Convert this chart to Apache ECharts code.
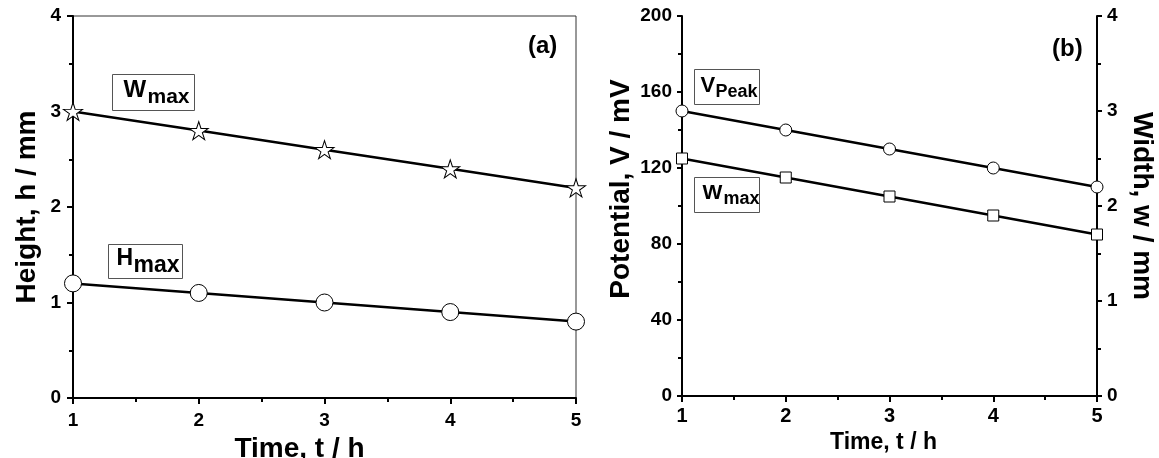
<!DOCTYPE html>
<html>
<head>
<meta charset="utf-8">
<script src="https://cdn.jsdelivr.net/npm/echarts@6/dist/echarts.min.js"></script>
<style>
  html, body { margin: 0; padding: 0; background: #fff; }
  #main { width: 1159px; height: 458px; }
</style>
</head>
<body>
<div id="main"></div>
<script>
// 数据
let times = [1, 2, 3, 4, 5];
let heightWmax = [3.0, 2.8, 2.6, 2.4, 2.2];
let heightHmax = [1.2, 1.1, 1.0, 0.9, 0.8];
let potentialPeak = [150, 140, 130, 120, 110];
let widthWmax = [2.5, 2.3, 2.1, 1.9, 1.7];

let fontA = '"Liberation Sans", Arial, sans-serif';
let starPath = 'path://M0 -100 L22 -31 L95 -31 L36 12 L59 81 L0 38 L-59 81 L-36 12 L-95 -31 L-22 -31 Z';

function pairs(ys) {
    return times.map(function (t, i) { return [t, ys[i]]; });
}

// 带框的标注文字 (主字 + 下标)
function boxLabel(x, y, w, h, main, mainSize, mainX, mainY, sub, subSize, subX, subY) {
    return {
        type: 'group',
        left: x, top: y,
        children: [
            { type: 'rect', shape: { x: 0, y: 0, width: w, height: h },
              style: { fill: '#fff', stroke: '#555', lineWidth: 1 } },
            { type: 'text', x: mainX, y: mainY,
              style: { text: main, font: 'bold ' + mainSize + 'px ' + fontA, fill: '#000' } },
            { type: 'text', x: subX, y: subY,
              style: { text: sub, font: 'bold ' + subSize + 'px ' + fontA, fill: '#000' } }
        ]
    };
}

let axisLineStyle = { lineStyle: { color: '#000', width: 2 } };
let tickStyle = { color: '#000', width: 2 };

let myChart = echarts.init(document.getElementById('main'));

let option = {
    backgroundColor: '#fff',
    animation: false,
    grid: [
        { left: 73, right: 583, top: 16, bottom: 60, outerBoundsMode: 'none', containLabel: false,
          show: true, borderColor: '#333', borderWidth: 1 },
        { left: 682, right: 62, top: 16, bottom: 62, outerBoundsMode: 'none', containLabel: false }
    ],
    xAxis: [
        {
            gridIndex: 0, type: 'value', min: 1, max: 5, interval: 1,
            name: 'Time, t / h', nameLocation: 'middle', nameGap: 32,
            nameTextStyle: { fontSize: 28, fontWeight: 'bold', fontFamily: fontA, color: '#000', padding: [0, 50, 0, 0] },
            axisLine: axisLineStyle,
            axisTick: { length: 6, lineStyle: tickStyle },
            minorTick: { show: true, splitNumber: 2, length: 4, lineStyle: tickStyle },
            splitLine: { show: false },
            axisLabel: { fontSize: 19, fontWeight: 'bold', fontFamily: fontA, color: '#000', margin: 13 }
        },
        {
            gridIndex: 1, type: 'value', min: 1, max: 5, interval: 1,
            name: 'Time, t / h', nameLocation: 'middle', nameGap: 30,
            nameTextStyle: { fontSize: 23, fontWeight: 'bold', fontFamily: fontA, color: '#000', padding: [0, 12, 0, 0] },
            axisLine: axisLineStyle,
            axisTick: { length: 6, lineStyle: tickStyle },
            minorTick: { show: true, splitNumber: 2, length: 4, lineStyle: tickStyle },
            splitLine: { show: false },
            axisLabel: { fontSize: 20, fontWeight: 'bold', fontFamily: fontA, color: '#000', margin: 10 }
        },
        {
            gridIndex: 1, type: 'value', position: 'top', min: 1, max: 5, interval: 1,
            axisLine: axisLineStyle,
            axisTick: { inside: true, length: 6, lineStyle: tickStyle },
            minorTick: { show: true, splitNumber: 2, length: 3, lineStyle: tickStyle },
            splitLine: { show: false },
            axisLabel: { show: false }
        }
    ],
    yAxis: [
        {
            gridIndex: 0, type: 'value', min: 0, max: 4, interval: 1,
            name: 'Height, h / mm', nameLocation: 'middle', nameGap: 32,
            nameTextStyle: { fontSize: 28, fontWeight: 'bold', fontFamily: fontA, color: '#000' },
            axisLine: axisLineStyle,
            axisTick: { length: 6, lineStyle: tickStyle },
            minorTick: { show: true, splitNumber: 2, length: 4, lineStyle: tickStyle },
            splitLine: { show: false },
            axisLabel: { fontSize: 19, fontWeight: 'bold', fontFamily: fontA, color: '#000', margin: 12 }
        },
        {
            gridIndex: 1, type: 'value', min: 0, max: 200, interval: 40,
            name: 'Potential, V / mV', nameLocation: 'middle', nameGap: 47,
            nameTextStyle: { fontSize: 28, fontWeight: 'bold', fontFamily: fontA, color: '#000', padding: [0, 0, 0, 34] },
            axisLine: axisLineStyle,
            axisTick: { length: 5, lineStyle: tickStyle },
            minorTick: { show: true, splitNumber: 2, length: 4, lineStyle: tickStyle },
            splitLine: { show: false },
            axisLabel: { fontSize: 19, fontWeight: 'bold', fontFamily: fontA, color: '#000', margin: 10 }
        },
        {
            gridIndex: 1, type: 'value', position: 'right', min: 0, max: 4, interval: 1,
            name: 'Width, w / mm', nameLocation: 'middle', nameGap: 31, nameRotate: -90,
            nameTextStyle: { fontSize: 28, fontWeight: 'bold', fontFamily: fontA, color: '#000' },
            axisLine: axisLineStyle,
            axisTick: { length: 5, lineStyle: tickStyle },
            minorTick: { show: true, splitNumber: 2, length: 4, lineStyle: tickStyle },
            splitLine: { show: false },
            axisLabel: { fontSize: 19, fontWeight: 'bold', fontFamily: fontA, color: '#000', margin: 10 }
        }
    ],
    series: [
        {
            name: 'Wmax', type: 'line', xAxisIndex: 0, yAxisIndex: 0,
            data: pairs(heightWmax),
            symbol: starPath, symbolSize: [19, 18],
            lineStyle: { color: '#000', width: 2.5 },
            itemStyle: { color: '#fff', borderColor: '#000', borderWidth: 1 }
        },
        {
            name: 'Hmax', type: 'line', xAxisIndex: 0, yAxisIndex: 0,
            data: pairs(heightHmax),
            symbol: 'circle', symbolSize: 17,
            lineStyle: { color: '#000', width: 2.5 },
            itemStyle: { color: '#fff', borderColor: '#000', borderWidth: 1 }
        },
        {
            name: 'VPeak', type: 'line', xAxisIndex: 1, yAxisIndex: 1,
            data: pairs(potentialPeak),
            symbol: 'circle', symbolSize: 12,
            lineStyle: { color: '#000', width: 2.5 },
            itemStyle: { color: '#fff', borderColor: '#000', borderWidth: 1 }
        },
        {
            name: 'Wmax b', type: 'line', xAxisIndex: 1, yAxisIndex: 2,
            data: pairs(widthWmax),
            symbol: 'rect', symbolSize: 11,
            lineStyle: { color: '#000', width: 2.5 },
            itemStyle: { color: '#fff', borderColor: '#000', borderWidth: 1 }
        }
    ],
    graphic: [
        boxLabel(112, 74, 82, 36, 'W', 24, 11, 4, 'max', 21, 35, 12),
        boxLabel(108, 244, 74, 34, 'H', 23, 8, 3, 'max', 23, 25, 10),
        boxLabel(694, 69, 65, 35, 'V', 22, 6, 5, 'Peak', 18, 21, 14),
        boxLabel(694, 177, 65, 35, 'W', 21, 8, 5, 'max', 18, 29, 13),
        { type: 'text', left: 528, top: 34,
          style: { text: '(a)', font: 'bold 24px ' + fontA, fill: '#000' } },
        { type: 'text', left: 1052, top: 37,
          style: { text: '(b)', font: 'bold 24px ' + fontA, fill: '#000' } }
    ]
};

myChart.setOption(option);
</script>
</body>
</html>
